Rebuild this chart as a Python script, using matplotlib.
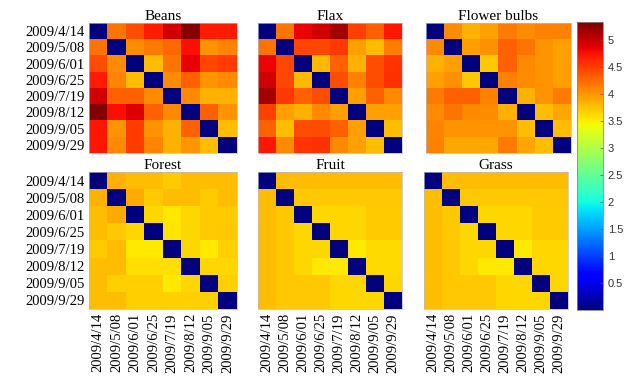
import numpy as np
import matplotlib
matplotlib.use("Agg")
import matplotlib.pyplot as plt

dates = ["2009/4/14", "2009/5/08", "2009/6/01", "2009/6/25",
         "2009/7/19", "2009/8/12", "2009/9/05", "2009/9/29"]

beans = [
    [0.00, 4.20, 4.40, 4.70, 4.95, 5.30, 4.70, 4.70],
    [4.20, 0.00, 4.05, 4.15, 4.25, 4.75, 4.00, 4.10],
    [4.40, 4.05, 0.00, 3.77, 4.20, 4.85, 4.45, 4.50],
    [4.70, 4.10, 3.77, 0.00, 4.05, 4.30, 4.00, 4.08],
    [4.95, 4.30, 4.30, 4.05, 0.00, 4.08, 3.85, 3.85],
    [5.30, 4.75, 4.88, 4.30, 4.08, 0.00, 4.30, 4.00],
    [4.72, 4.00, 4.50, 4.00, 3.85, 4.30, 0.00, 3.77],
    [4.72, 4.08, 4.50, 4.10, 3.85, 4.00, 3.77, 0.00],
]
flax = [
    [0.00, 4.20, 4.82, 4.95, 5.15, 4.48, 4.30, 4.72],
    [4.20, 0.00, 4.45, 4.45, 4.52, 3.95, 3.77, 4.13],
    [4.82, 4.45, 0.00, 3.80, 4.30, 3.85, 4.40, 4.55],
    [4.95, 4.45, 3.80, 0.00, 4.40, 4.12, 4.40, 4.58],
    [5.15, 4.52, 4.30, 4.40, 0.00, 3.95, 4.30, 4.08],
    [4.48, 3.95, 3.85, 4.08, 3.95, 0.00, 3.95, 3.95],
    [4.30, 3.77, 4.40, 4.40, 4.30, 3.95, 0.00, 3.77],
    [4.72, 4.08, 4.55, 4.58, 4.08, 3.95, 3.77, 0.00],
]
flower_bulbs = [
    [0.00, 4.05, 3.85, 3.95, 4.15, 4.05, 4.12, 4.12],
    [4.05, 0.00, 3.95, 4.02, 4.30, 4.20, 4.00, 3.95],
    [3.85, 3.95, 0.00, 3.72, 4.30, 4.08, 4.00, 3.95],
    [3.95, 4.02, 3.72, 0.00, 4.12, 4.05, 4.00, 3.95],
    [4.15, 4.30, 4.30, 4.12, 0.00, 3.85, 4.00, 4.15],
    [4.05, 4.20, 4.08, 4.05, 3.85, 0.00, 3.77, 3.90],
    [4.10, 4.00, 4.00, 4.00, 4.00, 3.77, 0.00, 3.77],
    [4.12, 3.90, 3.90, 3.90, 4.15, 3.90, 3.77, 0.00],
]
forest = [
    [0.00, 3.85, 3.77, 3.77, 3.70, 3.77, 3.77, 3.77],
    [3.85, 0.00, 3.88, 3.70, 3.77, 3.77, 3.70, 3.77],
    [3.77, 3.88, 0.00, 3.63, 3.52, 3.63, 3.70, 3.70],
    [3.77, 3.72, 3.63, 0.00, 3.55, 3.63, 3.70, 3.72],
    [3.70, 3.77, 3.52, 3.52, 0.00, 3.63, 3.52, 3.68],
    [3.77, 3.77, 3.60, 3.60, 3.60, 0.00, 3.63, 3.63],
    [3.77, 3.68, 3.68, 3.68, 3.52, 3.63, 0.00, 3.68],
    [3.77, 3.77, 3.68, 3.68, 3.68, 3.68, 3.68, 0.00],
]
fruit = [
    [0.00, 3.78, 3.78, 3.78, 3.78, 3.78, 3.78, 3.78],
    [3.78, 0.00, 3.72, 3.72, 3.72, 3.72, 3.72, 3.72],
    [3.78, 3.72, 0.00, 3.63, 3.63, 3.63, 3.70, 3.70],
    [3.78, 3.72, 3.63, 0.00, 3.63, 3.63, 3.70, 3.70],
    [3.78, 3.72, 3.63, 3.63, 0.00, 3.52, 3.62, 3.62],
    [3.78, 3.72, 3.63, 3.52, 3.52, 0.00, 3.62, 3.62],
    [3.78, 3.72, 3.72, 3.72, 3.63, 3.63, 0.00, 3.63],
    [3.78, 3.72, 3.72, 3.72, 3.63, 3.63, 3.63, 0.00],
]
grass = [
    [0.00, 3.77, 3.77, 3.77, 3.77, 3.77, 3.77, 3.77],
    [3.77, 0.00, 3.72, 3.72, 3.72, 3.72, 3.72, 3.72],
    [3.77, 3.72, 0.00, 3.64, 3.64, 3.64, 3.70, 3.70],
    [3.77, 3.72, 3.64, 0.00, 3.64, 3.64, 3.70, 3.70],
    [3.77, 3.72, 3.64, 3.64, 0.00, 3.53, 3.63, 3.63],
    [3.77, 3.72, 3.64, 3.53, 3.53, 0.00, 3.63, 3.63],
    [3.77, 3.72, 3.72, 3.72, 3.64, 3.64, 0.00, 3.63],
    [3.77, 3.72, 3.72, 3.72, 3.64, 3.64, 3.63, 0.00],
]

titles = ["Beans", "Flax", "Flower bulbs", "Forest", "Fruit", "Grass"]
matrices = [beans, flax, flower_bulbs, forest, fruit, grass]
cbar_ticks = [0.5, 1, 1.5, 2, 2.5, 3, 3.5, 4, 4.5, 5]

W, H = 637, 377
fig = plt.figure(figsize=(W / 100, H / 100), dpi=100)
serif = "Liberation Serif"

# panel boxes in pixels: left, top, right, bottom
boxes = [(89, 23, 237, 153), (258, 23, 402, 153), (426, 23, 571, 153),
         (89, 172, 237, 309), (258, 172, 402, 309), (424, 172, 568, 309)]

for i, (name, mat) in enumerate(zip(titles, matrices)):
    l, t, r, b = boxes[i]
    ax = fig.add_axes([l / W, 1 - b / H, (r - l) / W, (b - t) / H])
    im = ax.imshow(np.array(mat), cmap="jet", vmin=0, vmax=5.33,
                   aspect="auto", interpolation="nearest")
    ax.set_title(name, fontsize=11, family=serif, pad=2)
    ax.tick_params(length=0, pad=3)
    ax.set_xticks(range(8))
    ax.set_yticks(range(8))
    if i in (0, 3):
        ax.set_yticklabels(dates, fontsize=10.5, family=serif)
    else:
        ax.set_yticklabels([])
    if i >= 3:
        ax.set_xticklabels(dates, fontsize=10.5, family=serif, rotation=90)
    else:
        ax.set_xticklabels([])
    for s in ax.spines.values():
        s.set_color("#bbbbbb")
        s.set_linewidth(0.5)

cax = fig.add_axes([577 / W, 1 - 310 / H, 26 / W, 288 / H])
cb = fig.colorbar(im, cax=cax, ticks=cbar_ticks)
cb.ax.set_yticklabels([f"{v:g}" for v in cbar_ticks], fontsize=8,
                      family="Liberation Sans", color="#333333")
cb.ax.tick_params(length=2, width=0.5, direction="in", color="#555555")
cb.outline.set_edgecolor("#888888")
cb.outline.set_linewidth(0.6)

fig.savefig("out.png", dpi=100)
